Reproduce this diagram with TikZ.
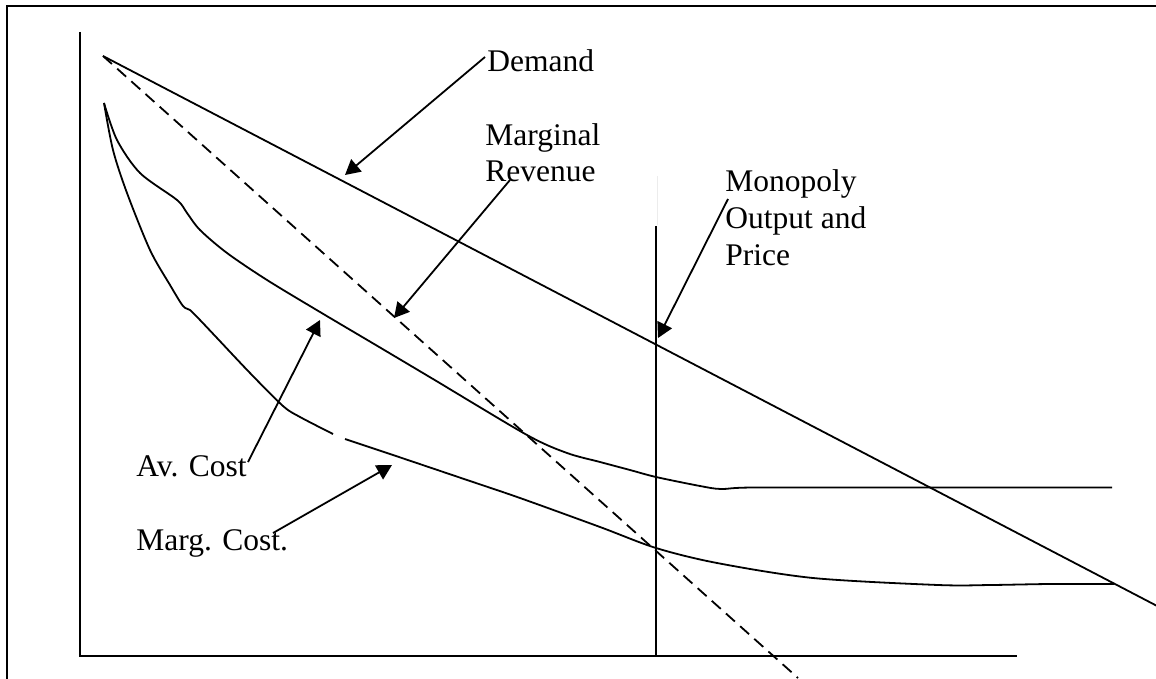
\documentclass[tikz,border=0pt]{standalone}
\usepackage{fontspec}
\setmainfont{Liberation Serif}
\usetikzlibrary{arrows.meta}
\begin{document}
\begin{tikzpicture}[x=0.5pt,y=-0.5pt,
  lbl/.style={font=\fontsize{15.75}{18}\selectfont, inner sep=0pt, anchor=base west},
  curve/.style={line width=0.9pt, line join=round},
  axis/.style={line width=1pt},
  ptr/.style={line width=0.9pt, -{Triangle[length=7.5pt,width=8pt]}},
  mrdash/.style={line width=0.9pt, dash pattern=on 6pt off 3.5pt},
]
\clip (0,0) rectangle (1156,679);
% frame
\draw[line width=1pt] (7,6) rectangle (1180,700);
% axes
\draw[axis] (80,32) -- (80,655.5) -- (1017,655.5);
% demand
\draw[curve] (103,56) -- (1160,607.5);
% marginal revenue
\draw[mrdash] (103,56) -- (798,678);
% monopoly output line
\draw[gray!15, line width=0.5pt] (657,176) -- (657,225);
\draw[line width=0.9pt] (656,226) -- (656,655.5);
% average cost
\draw[curve] plot[smooth, tension=0.5] coordinates {
 (104,103) (117,140) (140,173) (177,200) (187,213) (200,230) (227,253)
 (267,280) (320,312) (380,347.5) (433,379) (527,435) (567,453) (600,462)
 (630,470) (656,477) (700,486) (721,489) (753,487.5) (900,487.5) (1112,487.5)};
% marginal cost
\draw[curve] plot[smooth, tension=0.5] coordinates {
 (104,103) (113,150) (127,193) (150,250) (170,285) (183,306) (190,310) (200,320)
 (217,338) (250,373) (283,406) (300,417) (333,434)};
\draw[curve] plot[smooth, tension=0.5] coordinates {
 (345,439) (390,454) (467,480) (520,498) (600,527) (656,548) (717,563) (813,578)
 (938,585) (991,585) (1050,584) (1114,584)};
% labels
\node[lbl] (dem) at (487,72) {Demand};
\node[lbl] (mr1) at (485,146) {Marginal};
\node[lbl] (mr2) at (485,182) {Revenue};
\node[lbl] (mo1) at (725,192) {Monopoly};
\node[lbl] (mo2) at (725,229) {Output and};
\node[lbl] (mo3) at (725,265) {Price};
\node[lbl] (ac) at (136,476) {Av. Cost};
\node[lbl] (mc) at (136,550) {Marg. Cost.};
% arrow ends
\coordinate (demS) at (485,57);   \coordinate (demT) at (345,175);
\coordinate (mrS) at (510,180);   \coordinate (mrT) at (394,318);
\coordinate (moS) at (728,199);   \coordinate (moT) at (658,338);
\coordinate (acS) at (248,462);   \coordinate (acT) at (320,320);
\coordinate (mcS) at (273,533);   \coordinate (mcT) at (392,465);
\draw[ptr] (demS) -- (demT);
\draw[ptr] (mrS) -- (mrT);
\draw[ptr] (moS) -- (moT);
\draw[ptr] (acS) -- (acT);
\draw[ptr] (mcS) -- (mcT);
\end{tikzpicture}
\end{document}
